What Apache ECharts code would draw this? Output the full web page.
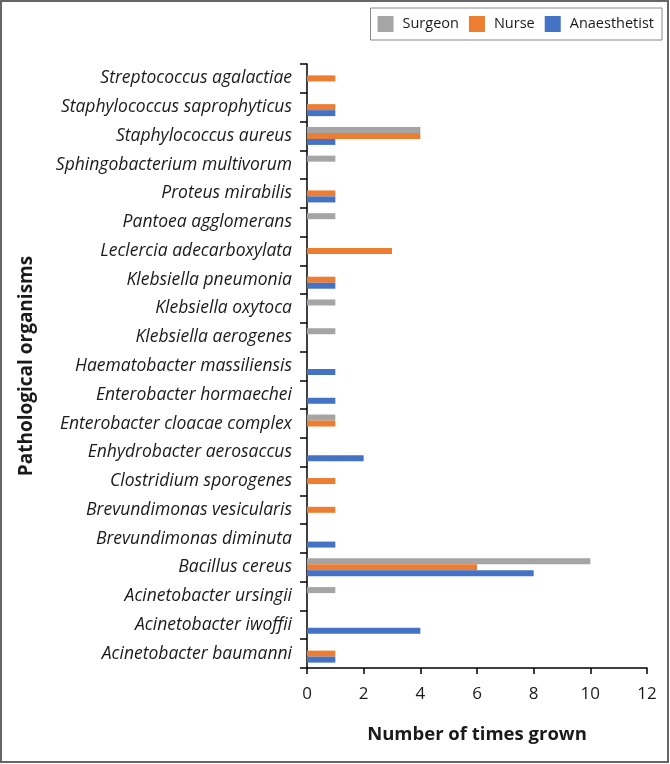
<!DOCTYPE html>
<html><head><meta charset="utf-8">
<script src="https://cdn.jsdelivr.net/npm/echarts@6/dist/echarts.min.js"></script>
<style>html,body{margin:0;padding:0;background:#fff}#c{width:670px;height:764px}</style>
</head><body><div id="c"></div>
<script>
const categories = ['Acinetobacter baumanni','Acinetobacter iwoffii','Acinetobacter ursingii','Bacillus cereus','Brevundimonas diminuta','Brevundimonas vesicularis','Clostridium sporogenes','Enhydrobacter aerosaccus','Enterobacter cloacae complex','Enterobacter hormaechei','Haematobacter massiliensis','Klebsiella aerogenes','Klebsiella oxytoca','Klebsiella pneumonia','Leclercia adecarboxylata','Pantoea agglomerans','Proteus mirabilis','Sphingobacterium multivorum','Staphylococcus aureus','Staphylococcus saprophyticus','Streptococcus agalactiae'];
const surgeon      = [0,0,1,10,0,0,0,0,1,0,0,1,1,0,0,1,0,1,4,0,0];
const nurse        = [1,0,0,6,0,1,1,0,1,0,0,0,0,1,3,0,1,0,4,1,1];
const anaesthetist = [1,4,0,8,1,0,0,2,0,1,1,0,0,1,0,0,1,0,1,1,0];
const xTicks = [0,2,4,6,8,10,12];

const chart = echarts.init(document.getElementById('c'), null, {renderer:'canvas'});
const toData = arr => arr.map(v => v === 0 ? null : v);
const mk = (name, data, color) => ({
  name, type:'bar', data: toData(data), barWidth:6, barGap:'0%', yAxisIndex:0,
  itemStyle:{color}, emphasis:{disabled:true}
});
chart.setOption({
  animation:false,
  textStyle:{fontFamily:'Open Sans'},
  graphic:[{type:'rect', shape:{x:1,y:1,width:667,height:761}, style:{fill:'none', stroke:'#666', lineWidth:2}}],
  legend:{
    data:['Surgeon','Nurse','Anaesthetist'], right:8, top:8, orient:'horizontal',
    itemWidth:16, itemHeight:16, itemGap:10, padding:[8,8,8,7],
    borderColor:'#888', borderWidth:1, icon:'rect',
    textStyle:{fontFamily:'Open Sans', fontSize:14.5, color:'#1a1a1a', padding:[0,0,0,4]}
  },
  grid:{left:307, right:23, top:64, bottom:96, containLabel:false},
  xAxis:{
    type:'value', min:0, max:12, interval:2,
    axisLine:{show:true, lineStyle:{color:'#000', width:1.5}},
    axisTick:{show:true, length:6, lineStyle:{color:'#000', width:1.5}},
    splitLine:{show:false},
    axisLabel:{fontFamily:'Open Sans', fontSize:17, color:'#1a1a1a', margin:18,
      formatter: v => xTicks.includes(v) ? String(v) : ''},
    name:'Number of times grown', nameLocation:'middle', nameGap:57,
    nameTextStyle:{fontFamily:'Open Sans', fontSize:18.5, fontWeight:'bold', color:'#1a1a1a'}
  },
  yAxis:[{
    type:'category', data:categories, boundaryGap:true,
    axisLine:{show:true, onZero:false, lineStyle:{color:'#000', width:1.5}},
    axisTick:{show:true, length:7, interval:0, lineStyle:{color:'#000', width:1.5}},
    axisLabel:{fontFamily:'Open Sans', fontStyle:'italic', fontSize:17.5, color:'#1a1a1a', margin:15, interval:0},
    name:'Pathological organisms', nameLocation:'middle', nameGap:271, nameRotate:90,
    nameTextStyle:{fontFamily:'Open Sans', fontSize:19, fontWeight:'bold', color:'#1a1a1a'}
  },{
    type:'value', min:0, max:categories.length, interval:1, position:'left',
    axisLine:{show:false}, splitLine:{show:false}, axisLabel:{show:false},
    axisTick:{show:true, length:7, lineStyle:{color:'#000', width:1.5}}
  }],
  series:[
    mk('Surgeon', surgeon, '#a5a5a5'),
    mk('Nurse', nurse, '#ed7d31'),
    mk('Anaesthetist', anaesthetist, '#4472c4')
  ]
});
</script></body></html>
